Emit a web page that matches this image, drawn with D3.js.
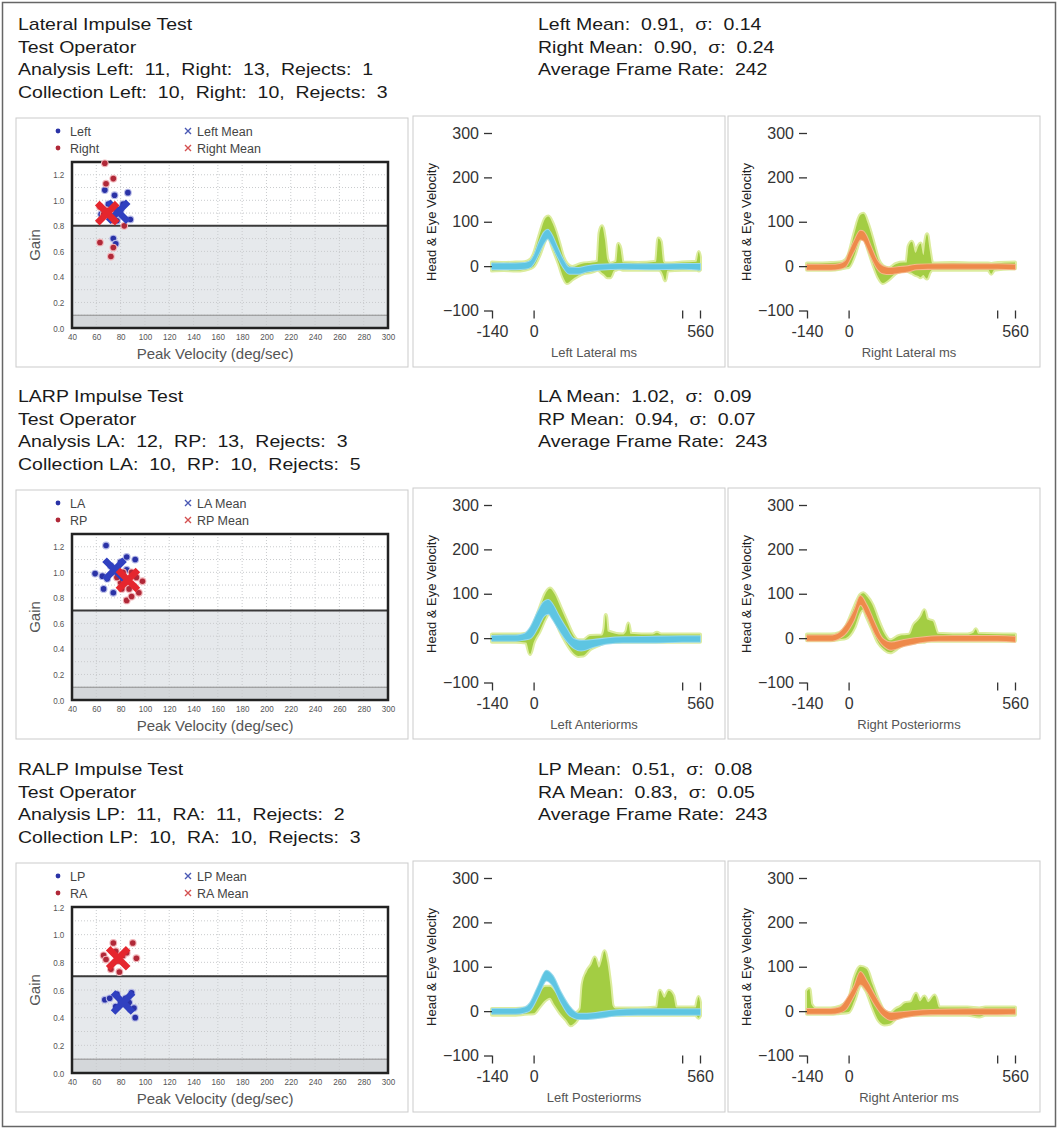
<!DOCTYPE html>
<html>
<head>
<meta charset="utf-8">
<script src="https://cdn.jsdelivr.net/npm/d3@7"></script>
<style>
body { margin: 0; background: #fff; }
svg text { font-family: "Liberation Sans", Arial, sans-serif; }
</style>
</head>
<body>
<div id="chart"></div>
<script>
// ---- header texts per test ----
var lateralHeader = ["Lateral Impulse Test", "Test Operator", "Analysis Left:  11,  Right:  13,  Rejects:  1", "Collection Left:  10,  Right:  10,  Rejects:  3"];
var lateralStats = ["Left Mean:  0.91,  σ:  0.14", "Right Mean:  0.90,  σ:  0.24", "Average Frame Rate:  242"];
var larpHeader = ["LARP Impulse Test", "Test Operator", "Analysis LA:  12,  RP:  13,  Rejects:  3", "Collection LA:  10,  RP:  10,  Rejects:  5"];
var larpStats = ["LA Mean:  1.02,  σ:  0.09", "RP Mean:  0.94,  σ:  0.07", "Average Frame Rate:  243"];
var ralpHeader = ["RALP Impulse Test", "Test Operator", "Analysis LP:  11,  RA:  11,  Rejects:  2", "Collection LP:  10,  RA:  10,  Rejects:  3"];
var ralpStats = ["LP Mean:  0.51,  σ:  0.08", "RA Mean:  0.83,  σ:  0.05", "Average Frame Rate:  243"];

// ---- legends ----
var lateralLegend = ["Left", "Right", "Left Mean", "Right Mean"];
var larpLegend = ["LA", "RP", "LA Mean", "RP Mean"];
var ralpLegend = ["LP", "RA", "LP Mean", "RA Mean"];

// ---- gain vs peak velocity: [deg/sec, gain] ----
var lateralLeft = [[67,1.08],[75,1.04],[86,1.06],[70,0.97],[82,0.97],[88,0.85],[74,0.70],[76,0.66],[80,0.92],[64,0.89],[77,0.84]];
var lateralRight = [[67,1.29],[74,1.17],[68,1.13],[63,0.67],[74,0.63],[72,0.56],[83,0.80],[63,0.95],[71,0.87],[77,0.93],[69,0.92],[74,0.84],[66,0.89]];
var lateralMeans = [[78,0.91],[69,0.90]];
var larpLA = [[68,1.21],[59,0.99],[66,0.87],[74,0.84],[85,1.12],[92,1.10],[65,0.97],[72,1.05],[76,1.00],[80,1.08],[85,1.02],[69,0.95]];
var larpRP = [[85,0.78],[89,0.81],[98,0.93],[95,0.84],[80,0.92],[82,1.00],[91,0.89],[93,0.96],[87,0.87],[77,0.96],[81,0.87],[89,1.00],[84,0.92]];
var larpMeans = [[75,1.02],[86,0.94]];
var ralpLP = [[67,0.53],[71,0.54],[92,0.40],[89,0.58],[76,0.48],[84,0.54],[88,0.46],[80,0.51],[87,0.51],[77,0.57],[91,0.47]];
var ralpRA = [[74,0.94],[66,0.85],[68,0.82],[90,0.94],[93,0.83],[79,0.73],[72,0.75],[76,0.88],[82,0.85],[78,0.81],[85,0.87]];
var ralpMeans = [[82,0.51],[78,0.83]];

var gainThresholds = [0.8, 0.7, 0.7];
var gainMax = [1.3, 1.3, 1.2];
var gainXTicks = [40,60,80,100,120,140,160,180,200,220,240,260,280,300];
var gainYTicks = [0,0.2,0.4,0.6,0.8,1.0,1.2];

// ---- head & eye velocity bands: [ms, low, high] ----
var leftLateralHead = [[-140,-7,6],[-100,-7,6],[-60,-7,6],[-30,-6,7],[-10,-2,12],[0,6,22],[20,32,56],[35,52,76],[48,62,82],[60,50,72],[80,22,42],[100,-3,14],[120,-17,-3],[150,-17,-4],[180,-12,0],[220,-8,3],[300,-6,5],[400,-7,4],[500,-6,5],[560,-8,5]];
var leftLateralEye = [[-140,-10,8],[-100,-9,7],[-60,-10,8],[-30,-8,9],[-10,-4,15],[0,0,26],[20,25,70],[40,60,108],[50,66,112],[65,40,95],[85,5,55],[100,-25,20],[112,-38,5],[130,-30,-2],[160,-18,5],[200,-12,8],[215,-8,10],[222,-10,75],[230,-15,90],[240,-20,60],[248,-25,15],[258,-25,5],[270,-10,8],[278,-8,10],[285,-6,50],[292,-6,40],[300,-8,8],[350,-8,7],[412,-8,10],[420,-8,62],[428,-10,55],[436,-20,10],[443,-32,6],[450,-10,6],[500,-8,8],[548,-8,10],[556,-10,32],[560,-8,20]];
var rightLateralHead = [[-140,-8,3],[-100,-8,3],[-60,-8,3],[-30,-6,5],[-10,-1,12],[0,10,28],[20,36,58],[40,60,80],[50,58,78],[60,46,68],[75,22,44],[95,-4,14],[115,-16,0],[140,-18,-4],[170,-15,-2],[200,-12,0],[230,-7,3],[300,-6,4],[400,-6,4],[500,-6,4],[560,-7,3]];
var rightLateralEye = [[-140,-8,6],[-100,-8,6],[-60,-8,7],[-30,-6,8],[-10,-3,14],[0,-2,25],[20,25,75],[40,65,115],[50,70,118],[65,40,95],[85,0,50],[100,-25,15],[115,-38,0],[135,-30,-5],[160,-15,5],[185,-10,8],[195,-8,8],[202,-12,45],[213,-15,55],[225,-20,30],[235,-22,45],[242,-25,51],[252,-20,25],[258,-25,55],[264,-28,72],[272,-15,40],[282,-8,6],[350,-8,7],[420,-8,6],[470,-8,6],[480,-17,5],[490,-8,6],[560,-5,8]];
var leftAnteriorHead = [[-140,-6,5],[-100,-6,6],[-60,-6,6],[-30,-3,10],[-10,0,25],[15,25,60],[35,50,82],[50,55,86],[62,45,78],[85,20,50],[110,-5,22],[135,-22,-2],[160,-28,-6],[200,-20,-4],[250,-12,0],[300,-10,2],[400,-10,3],[500,-8,4],[560,-8,4]];
var leftAnteriorEye = [[-140,-8,8],[-100,-8,8],[-60,-8,8],[-25,-10,10],[-12,-36,15],[0,-10,30],[20,15,65],[40,45,100],[55,60,112],[70,45,100],[90,15,70],[110,-10,40],[130,-30,10],[150,-40,-5],[167,-39,-5],[190,-25,5],[230,-12,6],[238,-8,20],[243,-8,52],[250,-8,15],[300,-8,8],[312,-8,15],[319,-8,33],[326,-8,10],[400,-8,8],[415,-8,12],[430,-8,8],[560,-8,8]];
var rightPosteriorHead = [[-140,-6,6],[-100,-6,6],[-60,-6,6],[-36,-2,10],[-8,12,30],[19,42,62],[40,75,95],[61,52,74],[89,10,32],[116,-16,-2],[144,-26,-10],[186,-18,-4],[255,-8,2],[300,-6,4],[400,-6,5],[500,-6,5],[560,-8,3]];
var rightPosteriorEye = [[-140,-5,8],[-100,-5,8],[-60,-5,8],[-30,-2,12],[-10,0,25],[20,25,70],[40,60,98],[50,65,101],[60,50,95],[80,20,75],[100,-10,40],[120,-25,10],[140,-32,-5],[170,-20,5],[205,-10,8],[220,-10,30],[234,-8,40],[245,-8,50],[255,-8,63],[265,-6,42],[283,-6,38],[300,-6,10],[400,-6,8],[420,-6,12],[428,-6,20],[436,-6,10],[560,-6,8]];
var leftPosteriorHead = [[-140,-6,5],[-100,-6,5],[-60,-6,5],[-30,-3,8],[-12,2,18],[16,35,57],[43,69,91],[64,58,80],[92,20,42],[119,-8,12],[153,-18,-6],[209,-16,-4],[278,-10,2],[350,-8,4],[450,-8,4],[560,-8,4]];
var leftPosteriorEye = [[-140,-8,5],[-100,-8,5],[-60,-8,5],[-30,-6,6],[0,-5,15],[20,10,40],[40,25,55],[55,30,55],[70,15,45],[90,-5,25],[110,-20,5],[125,-32,-5],[140,-25,-5],[158,-10,5],[165,-8,60],[180,-6,90],[195,-4,105],[206,-4,121],[220,-4,98],[230,-4,115],[238,-4,135],[248,-4,110],[258,-6,60],[266,-8,12],[275,-8,6],[350,-8,6],[415,-8,8],[425,-8,46],[440,-8,30],[455,-8,46],[470,-8,35],[480,-8,8],[545,-8,8],[555,-15,32],[560,-10,20]];
var rightAnteriorHead = [[-140,-6,5],[-100,-6,5],[-60,-6,5],[-30,-3,8],[-8,5,25],[19,36,56],[40,60,88],[61,46,68],[89,14,34],[116,-10,6],[144,-20,-4],[186,-14,-2],[250,-8,2],[300,-7,3],[400,-7,4],[500,-7,4],[560,-6,4]];
var rightAnteriorEye = [[-140,-6,45],[-132,-6,50],[-125,-6,15],[-110,-6,6],[-60,-6,6],[-30,-4,10],[0,-2,25],[20,25,75],[40,60,100],[60,45,95],[80,10,60],[100,-20,25],[120,-30,0],[140,-28,-5],[160,-15,5],[175,-10,10],[190,-10,18],[210,-8,20],[227,-8,39],[240,-8,22],[255,-8,33],[268,-8,20],[290,-8,35],[305,-8,8],[400,-8,8],[440,-12,6],[460,-8,8],[560,-8,8]];

var velTicks = [-100, 0, 100, 200, 300];
var msTicks = [-140, 0, 500, 560];
var msTickLabels = ["-140", "0", "", "560"];
var traceTitles = [["Left Lateral ms", "Right Lateral ms"], ["Left Anteriorms", "Right Posteriorms"], ["Left Posteriorms", "Right Anterior ms"]];

// build the row table from the arrays above
var rows = [
    {header: lateralHeader, stats: lateralStats, legend: lateralLegend, a: lateralLeft, b: lateralRight, means: lateralMeans,
     traces: [leftLateralHead, leftLateralEye, rightLateralHead, rightLateralEye]},
    {header: larpHeader, stats: larpStats, legend: larpLegend, a: larpLA, b: larpRP, means: larpMeans,
     traces: [leftAnteriorHead, leftAnteriorEye, rightPosteriorHead, rightPosteriorEye]},
    {header: ralpHeader, stats: ralpStats, legend: ralpLegend, a: ralpLP, b: ralpRA, means: ralpMeans,
     traces: [leftPosteriorHead, leftPosteriorEye, rightAnteriorHead, rightAnteriorEye]}
];
var rowOffsets = [0, 372, 745];
var FONT = "Liberation Sans, Arial, sans-serif";

var svg = d3.select("#chart").append("svg")
    .attr("width", 1059)
    .attr("height", 1130);

// outer frame
svg.append("rect").attr("x", 2.5).attr("y", 2.5).attr("width", 1053).attr("height", 1124)
    .attr("fill", "#fff").attr("stroke", "#666").attr("stroke-width", 1.5);

rows.forEach(function(r, i) {
    var g = svg.append("g").attr("transform", "translate(0," + rowOffsets[i] + ")");
    drawText(g, r.header, 18);
    drawText(g, r.stats, 538);
    drawGainPanel(g, r, i);
    drawVelocityPanel(g, 413, r.traces[0], r.traces[1], traceTitles[i][0], "left");
    drawVelocityPanel(g, 728, r.traces[2], r.traces[3], traceTitles[i][1], "right");
});

/*
    Header lines (the source figure is stretched wide, so scale text in x)
*/
function drawText(g, lines, x) {
    lines.forEach(function(t, k) {
        g.append("text")
            .attr("transform", "translate(" + x + "," + (30 + k * 22.7) + ") scale(1.22,1)")
            .attr("font-size", 16)
            .attr("fill", "#1a1a1a")
            .style("white-space", "pre")
            .text(t);
    });
}

/*
    Gain vs peak velocity scatter with threshold shading
*/
function drawGainPanel(g, r, i) {
    var thr = gainThresholds[i];
    var gmax = gainMax[i];
    g.append("rect").attr("x", 16).attr("y", 118).attr("width", 392).attr("height", 249)
        .attr("fill", "#fff").attr("stroke", "#cbcbcb");

    var x = d3.scaleLinear().domain([40, 300]).range([72, 388]);
    var y = d3.scaleLinear().domain([0, gmax]).range([328, 162]);

    //shaded regions below threshold
    g.append("rect").attr("x", x(40)).attr("y", y(thr)).attr("width", x(300) - x(40)).attr("height", y(0.1) - y(thr))
        .attr("fill", "#e6e9ec");
    g.append("rect").attr("x", x(40)).attr("y", y(0.1)).attr("width", x(300) - x(40)).attr("height", y(0) - y(0.1))
        .attr("fill", "#d4d7da");

    //grid
    g.selectAll(".vgrid").data(gainXTicks.slice(1, -1)).enter().append("line")
        .attr("x1", function(d) { return x(d); }).attr("x2", function(d) { return x(d); })
        .attr("y1", y(gmax)).attr("y2", y(0))
        .attr("stroke", "#c9cbcd").attr("stroke-dasharray", "1,2");
    g.selectAll(".hgrid").data(d3.range(1, Math.round(gmax * 10))).enter().append("line")
        .attr("x1", x(40)).attr("x2", x(300))
        .attr("y1", function(d) { return y(d / 10); }).attr("y2", function(d) { return y(d / 10); })
        .attr("stroke", "#c9cbcd").attr("stroke-dasharray", "1,2");

    g.append("line").attr("x1", x(40)).attr("x2", x(300)).attr("y1", y(0.1)).attr("y2", y(0.1))
        .attr("stroke", "#8c8c8c").attr("stroke-width", 1);
    g.append("line").attr("x1", x(40)).attr("x2", x(300)).attr("y1", y(thr)).attr("y2", y(thr))
        .attr("stroke", "#3a3a3a").attr("stroke-width", 2);
    g.append("rect").attr("x", x(40)).attr("y", y(gmax)).attr("width", x(300) - x(40)).attr("height", y(0) - y(gmax))
        .attr("fill", "none").attr("stroke", "#222").attr("stroke-width", 2.5);

    //axes
    var xAxis = g.append("g").attr("transform", "translate(0," + y(0) + ")")
        .call(d3.axisBottom(x).tickValues(gainXTicks).tickSize(0).tickPadding(5));
    var yAxis = g.append("g").attr("transform", "translate(" + x(40) + ",0)")
        .call(d3.axisLeft(y).tickValues(gainYTicks).tickFormat(d3.format(".1f")).tickSize(0).tickPadding(9));
    [xAxis, yAxis].forEach(function(a) {
        a.select(".domain").remove();
        a.attr("font-family", FONT).attr("font-size", 9.5);
        a.selectAll("text").attr("fill", "#555").attr("transform", "scale(0.85,1)");
    });

    g.append("text").attr("x", 215).attr("y", 359).attr("text-anchor", "middle")
        .attr("font-size", 15).attr("fill", "#555").text("Peak Velocity (deg/sec)");
    g.append("text").attr("transform", "translate(40,245) rotate(-90)").attr("text-anchor", "middle")
        .attr("font-size", 15).attr("fill", "#555").text("Gain");

    var cols = [{fill: "#2a32a6", halo: "#b4b8e6"}, {fill: "#b02838", halo: "#f0b4b8"}];
    [r.a, r.b].forEach(function(pts, k) {
        g.selectAll(".pt" + k).data(pts).enter().append("circle")
            .attr("cx", function(d) { return x(d[0]); })
            .attr("cy", function(d) { return y(d[1]); })
            .attr("r", 2.8)
            .attr("fill", cols[k].fill).attr("stroke", cols[k].halo).attr("stroke-width", 2.2)
            .style("paint-order", "stroke");
    });

    //mean crosses
    var meanCols = ["#3040c0", "#e5262e"];
    r.means.forEach(function(m, k) {
        g.append("path")
            .attr("d", "M-10,-10L10,10M-10,10L10,-10")
            .attr("transform", "translate(" + x(m[0]) + "," + y(m[1]) + ")")
            .attr("stroke", meanCols[k]).attr("stroke-width", 6.5).attr("fill", "none");
    });

    //legend
    [0, 1].forEach(function(k) {
        var ly = 131 + k * 17;
        g.append("circle").attr("cx", 58).attr("cy", ly).attr("r", 2.4).attr("fill", cols[k].fill);
        g.append("text").attr("x", 70).attr("y", ly + 4.5).attr("font-size", 12.5).attr("fill", "#444").text(r.legend[k]);
        g.append("path").attr("d", "M-3,-3L3,3M-3,3L3,-3").attr("transform", "translate(188," + ly + ")")
            .attr("stroke", k ? "#d45050" : "#4a58b4").attr("stroke-width", 1.4);
        g.append("text").attr("x", 197).attr("y", ly + 4.5).attr("font-size", 12.5).attr("fill", "#444").text(r.legend[k + 2]);
    });
}

/*
    Head (cyan/orange) and eye (green) velocity traces as bands
*/
function drawVelocityPanel(g, x0, head, eye, title, side) {
    g.append("rect").attr("x", x0).attr("y", 116).attr("width", 312).attr("height", 251)
        .attr("fill", "#fff").attr("stroke", "#cbcbcb");

    var x = d3.scaleLinear().domain([-140, 560]).range([x0 + 79, x0 + 287]);
    var y = d3.scaleLinear().domain([-100, 300]).range([310.5, 133]);
    var area = d3.area()
        .x(function(d) { return x(d[0]); })
        .y0(function(d) { return y(d[1]); })
        .y1(function(d) { return y(d[2]); })
        .curve(d3.curveMonotoneX);

    g.append("path").datum(eye).attr("d", area)
        .attr("fill", "#a3cd43").attr("stroke", "#dcec9e").attr("stroke-width", 4)
        .attr("stroke-linejoin", "round").style("paint-order", "stroke");
    g.append("path").datum(head).attr("d", area)
        .attr("fill", side == "left" ? "#5ec5e2" : "#ee8a4b")
        .attr("stroke", side == "left" ? "#9ad9ec" : "#f5b98c").attr("stroke-width", 2)
        .attr("stroke-linejoin", "round").style("paint-order", "stroke");

    var yAxis = g.append("g").attr("transform", "translate(" + (x0 + 79) + ",0)")
        .call(d3.axisLeft(y).tickValues(velTicks).tickSize(8).tickPadding(5));
    var xAxis = g.append("g").attr("transform", "translate(0," + y(-100) + ")")
        .call(d3.axisBottom(x).tickValues(msTicks).tickFormat(function(d, i) { return msTickLabels[i]; }).tickSize(8).tickPadding(7));
    [xAxis, yAxis].forEach(function(a) {
        a.select(".domain").remove();
        a.attr("font-family", FONT).attr("font-size", 16).attr("color", "#333");
        a.selectAll("line").attr("stroke-width", 1.3);
    });

    g.append("text").attr("x", x0 + 181).attr("y", 357).attr("text-anchor", "middle")
        .attr("font-size", 13).attr("fill", "#555").text(title);
    g.append("text").attr("transform", "translate(" + (x0 + 23) + ",222) rotate(-90)").attr("text-anchor", "middle")
        .attr("font-size", 13).attr("fill", "#222").text("Head & Eye Velocity");
}
</script>
</body>
</html>
